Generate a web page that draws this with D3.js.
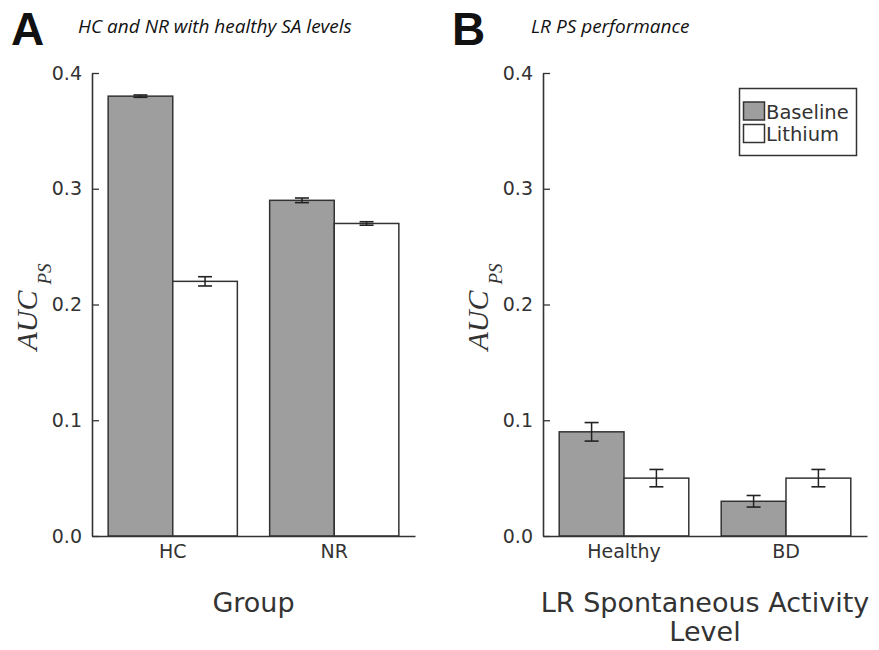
<!DOCTYPE html>
<html><head><meta charset="utf-8">
<script src="https://cdn.jsdelivr.net/npm/d3@7"></script>
<style>body{margin:0;background:#fff}svg{display:block}</style>
</head><body>
<svg id="c" width="879" height="650"></svg>
<script>
// ---- data ----
const seriesNames = ["Baseline", "Lithium"];
const seriesColors = ["#9e9e9e", "#ffffff"];
const yTicks = [0.0, 0.1, 0.2, 0.3, 0.4];

const catsA = ["HC", "NR"];
const baselineA = [0.38, 0.29];
const lithiumA = [0.22, 0.27];
const baselineErrA = [0.001, 0.002];
const lithiumErrA = [0.004, 0.0015];

const catsB = ["Healthy", "BD"];
const baselineB = [0.09, 0.03];
const lithiumB = [0.05, 0.05];
const baselineErrB = [0.008, 0.005];
const lithiumErrB = [0.0075, 0.0075];

const svg = d3.select("#c");
const ink = "#333";
const tickFont = "'DejaVu Sans', sans-serif";

function panel(opts) {
  const {x0, x1, cats, base, lith, baseErr, lithErr, letter, title, titleX, letterX, xlabel} = opts;
  const yTop = 73, yBot = 536;
  const y = d3.scaleLinear().domain([0, 0.4]).range([yBot, yTop]);
  const x = d3.scaleBand().domain(cats).range([x0, x1]).paddingInner(0.2).paddingOuter(0.1);
  const xs = d3.scaleBand().domain(seriesNames).range([0, x.bandwidth()]);
  const g = svg.append("g");

  const rows = cats.map((c, i) => ({c, vals: [base[i], lith[i]], errs: [baseErr[i], lithErr[i]]}));
  rows.forEach(r => {
    r.vals.forEach((v, k) => {
      const bx = x(r.c) + xs(seriesNames[k]);
      g.append("rect").attr("x", bx).attr("y", y(v)).attr("width", xs.bandwidth())
        .attr("height", y(0) - y(v)).attr("fill", seriesColors[k])
        .attr("stroke", ink).attr("stroke-width", 1.5);
    });
  });
  // error bars
  rows.forEach(r => {
    r.vals.forEach((v, k) => {
      const cx = x(r.c) + xs(seriesNames[k]) + xs.bandwidth() / 2;
      const e = r.errs[k];
      const cap = 7;
      g.append("line").attr("x1", cx).attr("x2", cx).attr("y1", y(v - e)).attr("y2", y(v + e))
        .attr("stroke", "#222").attr("stroke-width", 1.5);
      [v - e, v + e].forEach(t => {
        g.append("line").attr("x1", cx - cap).attr("x2", cx + cap).attr("y1", y(t)).attr("y2", y(t))
          .attr("stroke", "#222").attr("stroke-width", 1.6);
      });
    });
  });

  // y axis (inward ticks)
  const ya = d3.axisRight(y).tickValues(yTicks).tickFormat(d3.format(".1f")).tickSize(7).tickSizeOuter(0);
  const yg = g.append("g").attr("transform", `translate(${x0},0)`).call(ya);
  yg.select(".domain").attr("stroke", ink).attr("stroke-width", 1.6);
  yg.selectAll(".tick line").attr("stroke", ink).attr("stroke-width", 1.3);
  yg.selectAll(".tick text").attr("x", -10).attr("text-anchor", "end")
    .attr("font-family", tickFont).attr("font-size", 19).attr("fill", ink);

  // x axis
  const xa = d3.axisBottom(x).tickSize(0).tickSizeOuter(0).tickPadding(9);
  const xg = g.append("g").attr("transform", `translate(0,${yBot})`).call(xa);
  xg.select(".domain").attr("stroke", ink).attr("stroke-width", 1.6);
  xg.selectAll(".tick text").attr("font-family", tickFont).attr("font-size", 19).attr("fill", ink)
    .attr("dy", "0.71em");

  // x label
  const xl = g.append("text").attr("text-anchor", "middle").attr("font-family", tickFont)
    .attr("font-size", 27).attr("fill", ink);
  xlabel.forEach((ln, i) => {
    xl.append("tspan").attr("x", (x0 + x1) / 2).attr("y", 612 + i * 29).text(ln);
  });

  // y label
  const ylx = x0 - 55, yly = (yTop + yBot) / 2;
  const yl = g.append("text").attr("transform", `translate(${ylx},${yly + 46}) rotate(-90)`)
    .attr("font-family", "'Liberation Serif', 'Times New Roman', serif").attr("font-style", "italic")
    .attr("fill", ink);
  yl.append("tspan").attr("font-size", 30).text("AUC");
  yl.append("tspan").attr("font-size", 19).attr("dx", 6).attr("dy", 14).text("PS");

  // panel letter and title
  svg.append("text").attr("x", letterX).attr("y", 45).attr("font-family", "'Liberation Sans', Arial, sans-serif")
    .attr("font-weight", "bold").attr("font-size", 46).attr("fill", "#111").text(letter);
  svg.append("text").attr("x", titleX).attr("y", 33).attr("font-family", "'Open Sans', sans-serif")
    .attr("font-style", "italic").attr("font-size", 19).attr("fill", "#111").text(title);
}

panel({x0: 92, x1: 415, cats: catsA, base: baselineA, lith: lithiumA, baseErr: baselineErrA, lithErr: lithiumErrA,
  letter: "A", title: "HC and NR with healthy SA levels", titleX: 78, letterX: 11, xlabel: ["Group"]});
panel({x0: 543, x1: 867, cats: catsB, base: baselineB, lith: lithiumB, baseErr: baselineErrB, lithErr: lithiumErrB,
  letter: "B", title: "LR PS performance", titleX: 531, letterX: 452, xlabel: ["LR Spontaneous Activity", "Level"]});

// legend
const lg = svg.append("g");
lg.append("rect").attr("x", 739.5).attr("y", 88.5).attr("width", 117).attr("height", 67)
  .attr("fill", "#fff").attr("stroke", ink).attr("stroke-width", 1.5);
seriesNames.forEach((n, i) => {
  lg.append("rect").attr("x", 743.5).attr("y", 102 + i * 22.5).attr("width", 21).attr("height", 18)
    .attr("fill", seriesColors[i]).attr("stroke", ink).attr("stroke-width", 1.5);
  lg.append("text").attr("x", 766).attr("y", 118.5 + i * 22.5).attr("font-family", tickFont)
    .attr("font-size", 19.5).attr("fill", ink).text(n);
});
</script>
</body></html>
